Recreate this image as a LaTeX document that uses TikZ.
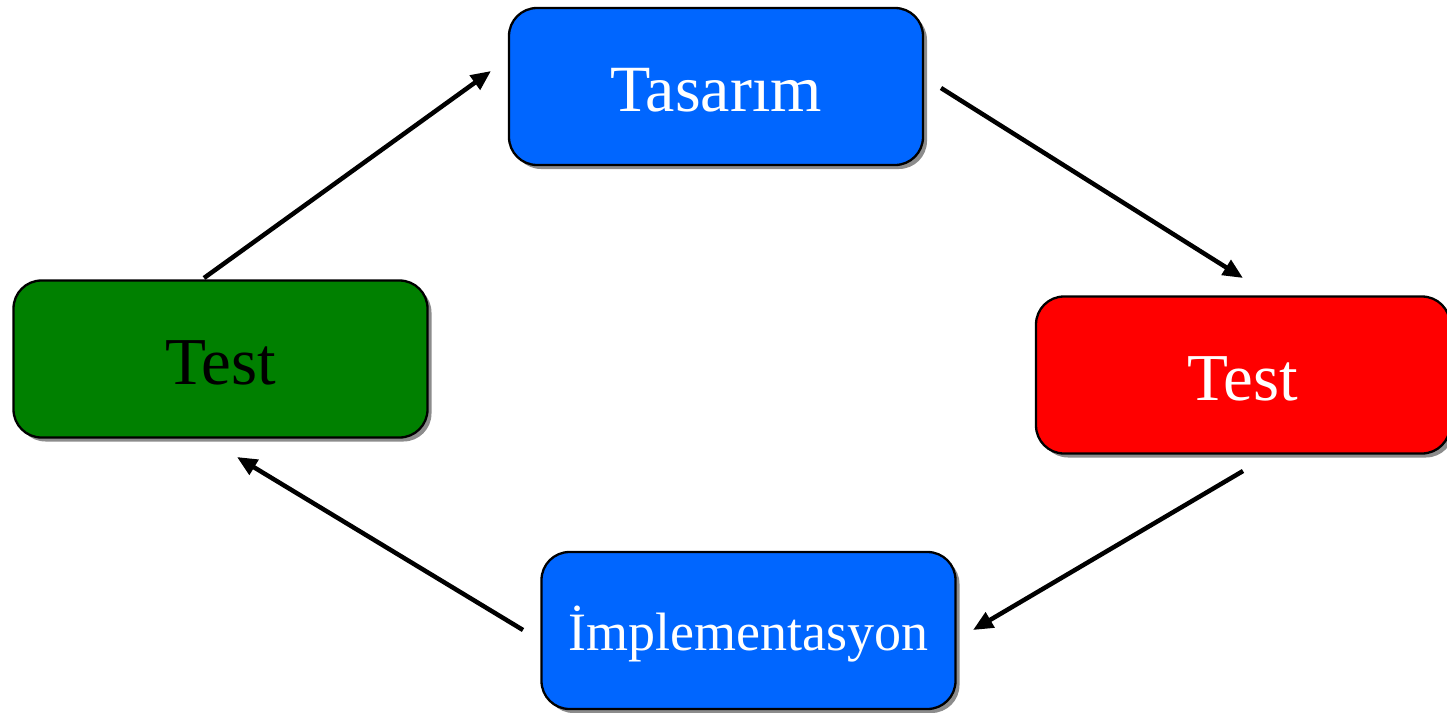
\documentclass[tikz,border=0pt]{standalone}
\usepackage{fontspec}
\setmainfont{Liberation Serif}
\usetikzlibrary{shadows,arrows.meta}
\definecolor{bblue}{HTML}{0066FF}
\definecolor{bgreen}{HTML}{008000}
\definecolor{bred}{HTML}{FF0000}
\begin{document}
\begin{tikzpicture}[x=1pt,y=-1pt,
  box/.style={draw=black, line width=2.3pt, rounded corners=28pt, minimum width=414pt, minimum height=157pt, inner sep=0pt,
    drop shadow={shadow xshift=4pt, shadow yshift=-4pt, fill=black!45, opacity=1}},
  lbl/.style={yshift=-4pt},
  conn/.style={line width=4.5pt, -{Triangle[length=20pt,width=17pt]}}]
\useasboundingbox (0,0) rectangle (1447,712);
\node[box, fill=bblue] (tas) at (716,86.5) {};
\node[box, fill=bgreen] (tl) at (220.5,359) {};
\node[box, fill=bred] (tr) at (1243,375) {};
\node[box, fill=bblue] (imp) at (748.5,630.5) {};
\node[lbl, text=white, font=\fontsize{66}{70}\selectfont] (tasl) at (tas) {Tasarım};
\node[lbl, text=black, font=\fontsize{67}{70}\selectfont] (tll) at (tl) {Test};
\node[lbl, text=white, font=\fontsize{67}{70}\selectfont] (trl) at (tr) {Test};
\node[lbl, text=white, font=\fontsize{54}{60}\selectfont] (impl) at (imp) {İmplementasyon};
\coordinate (a1s) at (204,278); \coordinate (a1e) at (491,71);
\coordinate (a2s) at (941,88); \coordinate (a2e) at (1243,278);
\coordinate (a3s) at (1243,471); \coordinate (a3e) at (973,630);
\coordinate (a4s) at (523,630); \coordinate (a4e) at (237,457);
\draw[conn] (a1s) -- (a1e);
\draw[conn] (a2s) -- (a2e);
\draw[conn] (a3s) -- (a3e);
\draw[conn] (a4s) -- (a4e);
\end{tikzpicture}
\end{document}
